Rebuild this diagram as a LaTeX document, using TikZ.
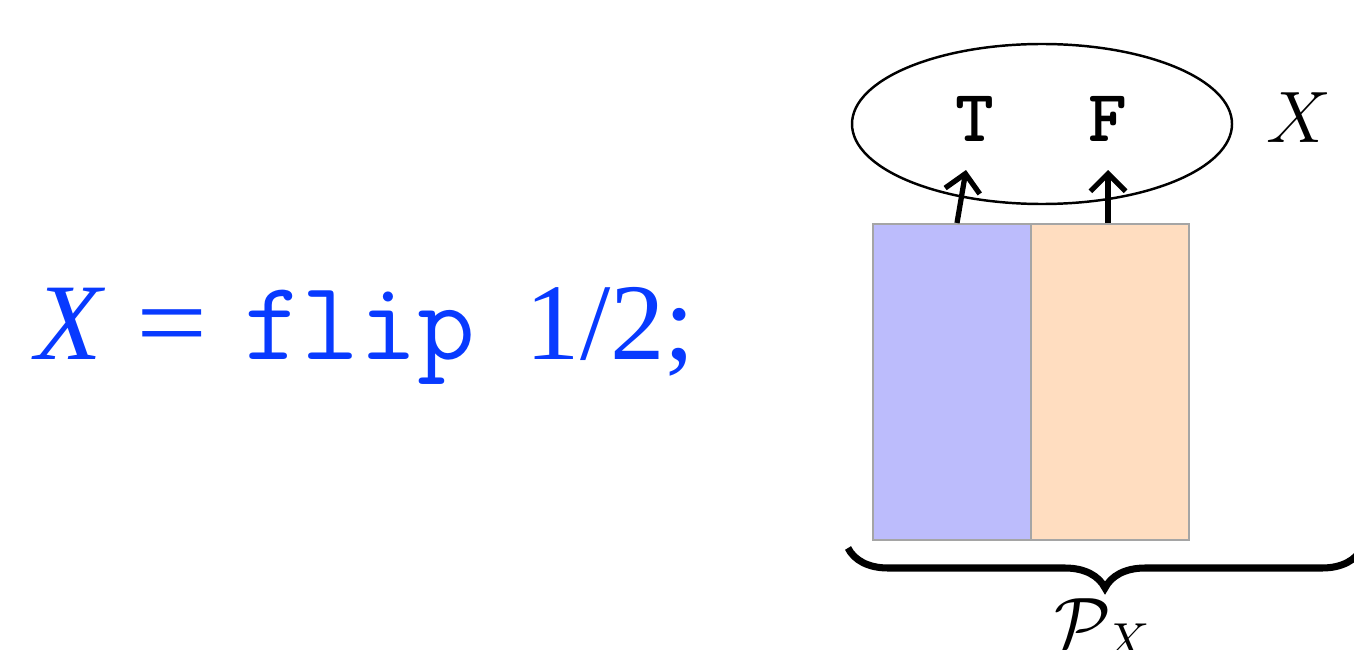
\documentclass[tikz,border=0pt]{standalone}
\usepackage{fontspec}
\setmainfont{Liberation Serif}
\usetikzlibrary{shapes.geometric,decorations.pathreplacing,arrows.meta}

\definecolor{codeblue}{RGB}{8,58,255}
\definecolor{cellblue}{RGB}{188,188,252}
\definecolor{cellpeach}{RGB}{255,221,192}
\definecolor{cellline}{RGB}{165,165,165}

\tikzset{
  cell/.style={draw=cellline, line width=0.6pt, inner sep=0pt, minimum width=1.58cm, minimum height=3.16cm},
  outcome/.style={font=\fontsize{21}{21}\selectfont\ttfamily\bfseries, inner sep=0pt},
  pick/.style={line width=1.5pt, -{Straight Barb[length=5pt,width=10pt]}}
}

\begin{document}
\begin{tikzpicture}[scale=1]
  \useasboundingbox (0,0) rectangle (13.54,6.49);

  % Program text
  \node[anchor=base west, inner sep=0pt, text=codeblue, font=\fontsize{31}{31}\selectfont] (prog) at (0.35,2.90)
    {\textit{X}\hspace{0.31cm}\scalebox{1.16}[1]{=}\hspace{0.36cm}{\fontsize{32}{32}\selectfont\ttfamily flip}\hspace{0.50cm}1/2;};

  % Sample space X
  \node[draw, ellipse, line width=0.7pt, minimum width=3.8cm, minimum height=1.6cm] (space) at (10.42,5.25) {};
  \foreach \x/\name/\lbl in {9.75/vt/T, 11.08/vf/F} {
    \node[outcome] (\name) at (\x,5.30) {\lbl};
  }
  \node[font=\fontsize{21}{21}\selectfont, inner sep=0pt] (xname) at (12.99,5.31) {$X$};

  % Probability mass
  \node[cell, fill=cellblue] (mt) at (9.52,2.67) {};
  \node[cell, fill=cellpeach] (mf) at (11.10,2.67) {};

  % Arrows into the outcomes
  \coordinate (st) at (9.57,4.26);
  \coordinate (et) at (9.66,4.79);
  \coordinate (sf) at (11.08,4.26);
  \coordinate (ef) at (11.08,4.79);
  \draw[pick] (st) -- (et);
  \draw[pick] (sf) -- (ef);

  % Brace under the mass
  \coordinate (bl) at (8.48,1.01);
  \coordinate (br) at (13.62,1.01);
  \draw[decorate, decoration={brace, mirror, amplitude=0.4cm}, line width=2pt] (bl) -- (br);
  \node[anchor=base, inner sep=0pt, font=\fontsize{21}{21}\selectfont] (px) at (11.03,0.01) {$\mathcal{P}_X$};

\end{tikzpicture}
\end{document}
